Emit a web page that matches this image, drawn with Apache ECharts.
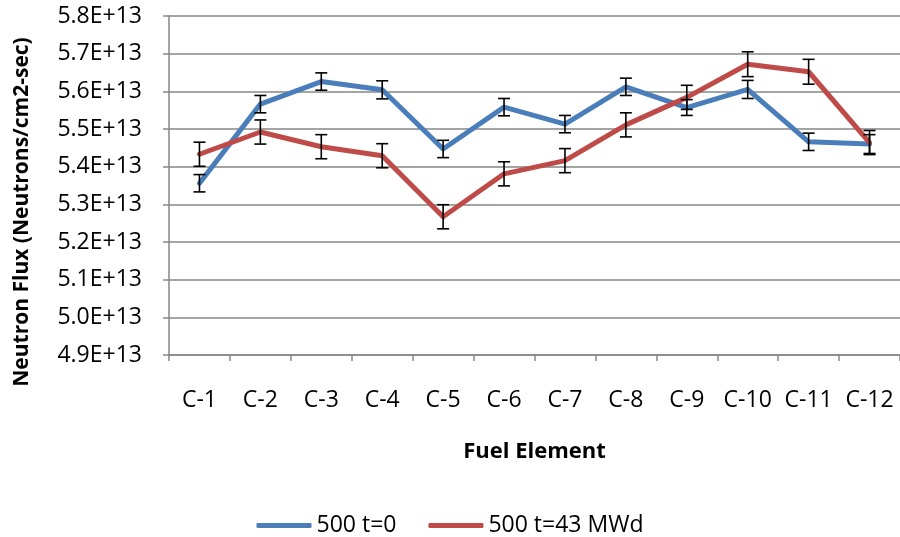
<!DOCTYPE html>
<html>
<head>
<meta charset="utf-8">
<script src="https://cdn.jsdelivr.net/npm/echarts@6/dist/echarts.min.js"></script>
<style>
  html, body { margin: 0; padding: 0; background: #fff; }
  #chart { width: 900px; height: 537px; }
</style>
</head>
<body>
<div id="chart"></div>
<script>
// Fuel elements along the x axis
const fuelElements = ['C-1', 'C-2', 'C-3', 'C-4', 'C-5', 'C-6', 'C-7', 'C-8', 'C-9', 'C-10', 'C-11', 'C-12'];

// Neutron flux (neutrons/cm2-sec) at beginning of life
const fluxT0 = [5.356e13, 5.566e13, 5.626e13, 5.604e13, 5.447e13, 5.558e13, 5.513e13, 5.612e13, 5.557e13, 5.605e13, 5.466e13, 5.460e13];
const errT0  = [0.023e13, 0.023e13, 0.023e13, 0.024e13, 0.023e13, 0.023e13, 0.023e13, 0.023e13, 0.021e13, 0.024e13, 0.023e13, 0.025e13];

// Neutron flux after 43 MWd
const fluxT43 = [5.433e13, 5.492e13, 5.453e13, 5.429e13, 5.267e13, 5.381e13, 5.416e13, 5.511e13, 5.584e13, 5.672e13, 5.652e13, 5.464e13];
const errT43  = [0.032e13, 0.032e13, 0.032e13, 0.032e13, 0.032e13, 0.032e13, 0.032e13, 0.032e13, 0.032e13, 0.033e13, 0.033e13, 0.032e13];

const seriesNames = ['500 t=0', '500 t=43 MWd'];
const colors = ['#4A7EBB', '#BE4B48'];

const FONT = '"Open Sans", "Noto Sans", sans-serif';

function errorBarData(values, errs) {
  return values.map((v, i) => [i, v - errs[i], v + errs[i]]);
}

function renderErrorBar(params, api) {
  const x = api.value(0);
  const lo = api.coord([x, api.value(1)]);
  const hi = api.coord([x, api.value(2)]);
  const half = 6;
  const style = { stroke: '#000', lineWidth: 1.6 };
  return {
    type: 'group',
    children: [
      { type: 'line', shape: { x1: hi[0], y1: hi[1], x2: lo[0], y2: lo[1] }, style },
      { type: 'line', shape: { x1: hi[0] - half, y1: hi[1], x2: hi[0] + half, y2: hi[1] }, style },
      { type: 'line', shape: { x1: lo[0] - half, y1: lo[1], x2: lo[0] + half, y2: lo[1] }, style }
    ]
  };
}

const chart = echarts.init(document.getElementById('chart'), null, { renderer: 'canvas' });

chart.setOption({
  animation: false,
  backgroundColor: '#fff',
  color: colors,
  textStyle: { fontFamily: FONT },
  grid: { left: 169, top: 16, width: 732, height: 339, containLabel: false },
  legend: {
    top: 509,
    left: 'center',
    data: seriesNames,
    icon: 'roundRect',
    itemWidth: 55,
    itemHeight: 5,
    itemGap: 32,
    textStyle: { fontFamily: FONT, fontSize: 23, color: '#000' }
  },
  xAxis: {
    type: 'category',
    data: fuelElements,
    boundaryGap: true,
    name: 'Fuel Element',
    nameLocation: 'middle',
    nameGap: 86,
    nameTextStyle: { fontFamily: FONT, fontSize: 22, fontWeight: 'bold', color: '#000' },
    axisLine: { lineStyle: { color: '#868686', width: 1.5 } },
    axisTick: { show: true, length: 6, alignWithLabel: false, lineStyle: { color: '#868686', width: 1.5 } },
    axisLabel: { fontFamily: FONT, fontSize: 23, color: '#000', margin: 34, interval: 0 },
    splitLine: { show: false }
  },
  yAxis: {
    type: 'value',
    min: 4.9e13,
    max: 5.8e13,
    interval: 0.1e13,
    axisLine: { show: true, lineStyle: { color: '#868686', width: 1.5 } },
    axisTick: { show: true, length: 6, lineStyle: { color: '#868686', width: 1.5 } },
    axisLabel: {
      fontFamily: FONT, fontSize: 23, color: '#000', margin: 27,
      formatter: v => (v / 1e13).toFixed(1) + 'E+13'
    },
    splitLine: { show: true, lineStyle: { color: '#868686', width: 1.5 } }
  },
  graphic: [{
    type: 'text',
    x: 22,
    y: 212,
    rotation: Math.PI / 2,
    style: {
      text: 'Neutron Flux (Neutrons/cm2-sec)',
      fontFamily: FONT,
      fontSize: 21,
      fontWeight: 'bold',
      fill: '#000',
      align: 'center',
      verticalAlign: 'middle'
    }
  }],
  series: [
    {
      name: seriesNames[0],
      type: 'line',
      data: fluxT0,
      symbol: 'none',
      lineStyle: { width: 5, color: colors[0], cap: 'round', join: 'round' },
      z: 3
    },
    {
      name: seriesNames[1],
      type: 'line',
      data: fluxT43,
      symbol: 'none',
      lineStyle: { width: 5, color: colors[1], cap: 'round', join: 'round' },
      z: 4
    },
    {
      name: seriesNames[0] + ' error',
      type: 'custom',
      renderItem: renderErrorBar,
      data: errorBarData(fluxT0, errT0),
      encode: { x: 0, y: [1, 2] },
      z: 5,
      silent: true
    },
    {
      name: seriesNames[1] + ' error',
      type: 'custom',
      renderItem: renderErrorBar,
      data: errorBarData(fluxT43, errT43),
      encode: { x: 0, y: [1, 2] },
      z: 5,
      silent: true
    }
  ]
});
</script>
</body>
</html>
